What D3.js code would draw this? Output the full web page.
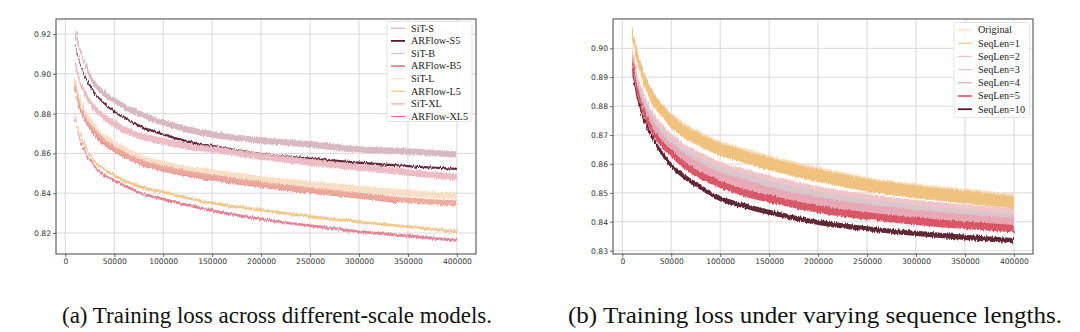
<!DOCTYPE html>
<html>
<head>
<meta charset="utf-8">
<script src="https://cdn.jsdelivr.net/npm/d3@7"></script>
<style>
  html, body { margin: 0; padding: 0; background: #fff; }
  svg { display: block; }
</style>
</head>
<body>
<svg id="fig" width="1080" height="332"></svg>
<script>
// Training steps at which the loss is sampled
const steps = [10000, 15000, 20000, 25000, 30000, 40000, 50000, 60000, 75000,
               100000, 125000, 150000, 200000, 250000, 300000, 350000, 400000];
const stepsB5 = [10000, 15000, 20000, 25000, 30000, 40000, 50000, 60000, 75000,
                 100000, 125000, 150000, 200000, 250000, 300000, 340000];

// (a) different-scale models
const scaleNames = ["SiT-S", "ARFlow-S5", "SiT-B", "ARFlow-B5", "SiT-L", "ARFlow-L5", "SiT-XL", "ARFlow-XL5"];
const sitS     = [0.922, 0.912, 0.905, 0.899, 0.895, 0.890, 0.8865, 0.8835, 0.880, 0.8755, 0.872, 0.8695, 0.8665, 0.8645, 0.862, 0.861, 0.8595];
const arflowS5 = [0.9148, 0.905, 0.899, 0.894, 0.8905, 0.885, 0.881, 0.878, 0.874, 0.8695, 0.866, 0.8637, 0.8597, 0.8573, 0.8553, 0.8536, 0.8522];
const sitB     = [0.906, 0.896, 0.890, 0.886, 0.8828, 0.878, 0.875, 0.872, 0.869, 0.866, 0.8635, 0.862, 0.8585, 0.8555, 0.853, 0.8505, 0.848];
const arflowB5 = [0.8925, 0.8825, 0.877, 0.873, 0.8698, 0.865, 0.8618, 0.859, 0.8555, 0.852, 0.8495, 0.8475, 0.844, 0.841, 0.8385, 0.8362];
const sitL     = [0.897, 0.887, 0.881, 0.877, 0.8735, 0.868, 0.865, 0.862, 0.858, 0.8545, 0.852, 0.8505, 0.847, 0.8445, 0.842, 0.840, 0.8385];
const arflowL5 = [0.8805, 0.870, 0.864, 0.8595, 0.856, 0.852, 0.849, 0.8465, 0.8435, 0.8405, 0.8375, 0.835, 0.8315, 0.8283, 0.8256, 0.8232, 0.8207];
const sitXL    = [0.894, 0.884, 0.878, 0.874, 0.871, 0.866, 0.8625, 0.8595, 0.856, 0.8525, 0.850, 0.848, 0.8445, 0.8415, 0.839, 0.8365, 0.835];
const arflowXL5= [0.878, 0.867, 0.861, 0.857, 0.8535, 0.849, 0.8465, 0.844, 0.8405, 0.837, 0.834, 0.8312, 0.827, 0.8237, 0.8207, 0.8185, 0.8163];
const scaleSpread = [0.0016, 0.0006, 0.0017, 0.0012, 0.0017, 0.0007, 0.0014, 0.0007];

// (b) sequence lengths
const seqNames = ["Original", "SeqLen=1", "SeqLen=2", "SeqLen=3", "SeqLen=4", "SeqLen=5", "SeqLen=10"];
const original = [0.905, 0.8975, 0.8915, 0.8868, 0.8832, 0.8788, 0.8752, 0.8725, 0.8695, 0.8655, 0.863, 0.8605, 0.8565, 0.853, 0.8507, 0.849, 0.8472];
const seqLen1  = [0.906, 0.8975, 0.892, 0.887, 0.8835, 0.879, 0.8748, 0.872, 0.869, 0.865, 0.8625, 0.860, 0.856, 0.8527, 0.8503, 0.8485, 0.8467];
const seqLen2  = [0.899, 0.890, 0.8845, 0.8805, 0.877, 0.872, 0.8688, 0.866, 0.863, 0.859, 0.8565, 0.8543, 0.8505, 0.8478, 0.8457, 0.8442, 0.8428];
const seqLen3  = [0.898, 0.8888, 0.883, 0.879, 0.8755, 0.8705, 0.8672, 0.8645, 0.8613, 0.8575, 0.855, 0.8528, 0.849, 0.8463, 0.8442, 0.8426, 0.8412];
const seqLen4  = [0.8965, 0.8873, 0.8815, 0.8773, 0.874, 0.869, 0.8657, 0.863, 0.8598, 0.8555, 0.853, 0.8505, 0.847, 0.8445, 0.8425, 0.841, 0.8398];
const seqLen5  = [0.8955, 0.886, 0.880, 0.8755, 0.872, 0.867, 0.8637, 0.8605, 0.857, 0.853, 0.850, 0.848, 0.8443, 0.842, 0.8402, 0.8388, 0.8376];
const seqLen10 = [0.8925, 0.8835, 0.8775, 0.873, 0.8695, 0.864, 0.8595, 0.8565, 0.853, 0.848, 0.8455, 0.8433, 0.8398, 0.8376, 0.836, 0.8346, 0.8335];
const seqSpread = [0.0025, 0.0022, 0.0018, 0.0016, 0.0016, 0.0013, 0.0009];

// Axis ticks
const xTicks = [0, 50000, 100000, 150000, 200000, 250000, 300000, 350000, 400000];
const yTicksA = [0.82, 0.84, 0.86, 0.88, 0.90, 0.92];
const yTicksB = [0.83, 0.84, 0.85, 0.86, 0.87, 0.88, 0.89, 0.90];

const captions = ["(a) Training loss across different-scale models.",
                  "(b) Training loss under varying sequence lengths."];

// Colours and legend line widths
const scaleColors = ["#d6b6bf", "#5c1a30", "#ebbac2", "#d9868f", "#f6dec4", "#f0c383", "#eea99c", "#e57c90"];
const scaleLegendW = [1.2, 1.8, 1.2, 1.8, 1.2, 1.2, 1.2, 1.2];
const seqColors = ["#f7dcb6", "#efc17d", "#f0c2c7", "#d8c8cd", "#e8a6b4", "#d8505f", "#5a1a2c"];
const seqLegendW = [1.2, 1.2, 1.2, 1.2, 1.2, 1.6, 1.8];

const svg = d3.select("#fig");
const defs = svg.append("defs");

// jagged edge texture for the noisy loss bands
const jit = defs.append("filter").attr("id", "jitter")
  .attr("x", "-2%").attr("y", "-10%").attr("width", "104%").attr("height", "120%");
jit.append("feTurbulence").attr("type", "fractalNoise")
  .attr("baseFrequency", "0.9 0.08").attr("numOctaves", 2).attr("seed", 3).attr("result", "n");
jit.append("feDisplacementMap").attr("in", "SourceGraphic").attr("in2", "n")
  .attr("scale", 4).attr("xChannelSelector", "R").attr("yChannelSelector", "G");

function panel(opt) {
  const { left, right, top, bottom, yDomain, yTicks, series, id, legend } = opt;
  const x = d3.scaleLinear().domain([-9500, 419500]).range([left, right]);
  const y = d3.scaleLinear().domain(yDomain).range([bottom, top]);
  const g = svg.append("g");

  defs.append("clipPath").attr("id", id).append("rect")
    .attr("x", left).attr("y", top).attr("width", right - left).attr("height", bottom - top);

  // grid
  g.append("g").selectAll("line").data(xTicks).join("line")
    .attr("x1", d => x(d)).attr("x2", d => x(d)).attr("y1", top).attr("y2", bottom)
    .attr("stroke", "#d4d4d4").attr("stroke-width", 0.9);
  g.append("g").selectAll("line").data(yTicks).join("line")
    .attr("x1", left).attr("x2", right).attr("y1", d => y(d)).attr("y2", d => y(d))
    .attr("stroke", "#d4d4d4").attr("stroke-width", 0.9);

  // loss bands
  const plot = g.append("g").attr("clip-path", `url(#${id})`);
  series.forEach(s => {
    const pts = s.xs.map((xx, i) => [xx, s.vals[i]]);
    const area = d3.area()
      .x(d => x(d[0]))
      .y0(d => y(d[1] - s.spread))
      .y1(d => y(d[1] + s.spread))
      .curve(d3.curveMonotoneX);
    plot.append("path").attr("d", area(pts))
      .attr("fill", s.color).attr("opacity", 0.95)
      .attr("filter", "url(#jitter)");
  });

  // axes
  const xAxis = d3.axisBottom(x).tickValues(xTicks).tickFormat(d3.format("d")).tickSize(3).tickPadding(2);
  const yAxis = d3.axisLeft(y).tickValues(yTicks).tickFormat(d3.format(".2f")).tickSize(3).tickPadding(2);
  const ax = g.append("g").attr("transform", `translate(0,${bottom})`).call(xAxis);
  const ay = g.append("g").attr("transform", `translate(${left},0)`).call(yAxis);
  [ax, ay].forEach(a => {
    a.select(".domain").remove();
    a.selectAll("line").attr("stroke", "#444").attr("stroke-width", 0.8);
    a.selectAll("text").attr("fill", "#333")
      .style("font-family", "'DejaVu Sans', sans-serif").style("font-size", "7.6px");
  });

  // frame
  g.append("rect").attr("x", left).attr("y", top)
    .attr("width", right - left).attr("height", bottom - top)
    .attr("fill", "none").attr("stroke", "#555").attr("stroke-width", 1.1);

  // legend
  const lg = g.append("g");
  lg.append("rect").attr("x", legend.x).attr("y", legend.y)
    .attr("width", legend.w).attr("height", legend.h).attr("rx", 2)
    .attr("fill", "#fff").attr("fill-opacity", 0.85)
    .attr("stroke", "#dcdcdc").attr("stroke-width", 0.8);
  const rows = lg.selectAll("g.row").data(series).join("g")
    .attr("transform", (d, i) => `translate(0,${legend.y0 + i * legend.dy})`);
  rows.append("line")
    .attr("x1", legend.x + 4).attr("x2", legend.x + 18)
    .attr("stroke", d => d.color).attr("stroke-width", d => d.lw);
  rows.append("text").attr("x", legend.x + 24).attr("dy", "0.33em")
    .style("font-family", "'Liberation Serif', 'Times New Roman', serif")
    .style("font-size", "10.2px").attr("fill", "#222")
    .text(d => d.name);
}

const scaleVals = [sitS, arflowS5, sitB, arflowB5, sitL, arflowL5, sitXL, arflowXL5];
panel({
  id: "clipA", left: 56, right: 476, top: 19, bottom: 254,
  yDomain: [0.80945, 0.92754], yTicks: yTicksA,
  series: scaleNames.map((n, i) => ({
    name: n, vals: scaleVals[i], xs: n === "ARFlow-B5" ? stepsB5 : steps,
    color: scaleColors[i], spread: scaleSpread[i], lw: scaleLegendW[i]
  })),
  legend: { x: 387, y: 21.5, w: 85, h: 100, y0: 28.3, dy: 12.6 }
});

const seqVals = [original, seqLen1, seqLen2, seqLen3, seqLen4, seqLen5, seqLen10];
panel({
  id: "clipB", left: 613, right: 1033, top: 19, bottom: 254,
  yDomain: [0.82886, 0.91014], yTicks: yTicksB,
  series: seqNames.map((n, i) => ({
    name: n, vals: seqVals[i], xs: steps,
    color: seqColors[i], spread: seqSpread[i], lw: seqLegendW[i]
  })),
  legend: { x: 954, y: 22.5, w: 75.5, h: 95, y0: 30, dy: 13.2 }
});

// captions, fitted to their set widths
const capLayout = [{ x: 62, w: 430 }, { x: 568, w: 494 }];
svg.selectAll("text.cap").data(captions).join("text").attr("class", "cap")
  .attr("x", (d, i) => capLayout[i].x).attr("y", 323)
  .attr("textLength", (d, i) => capLayout[i].w)
  .attr("lengthAdjust", "spacingAndGlyphs")
  .style("font-family", "'Liberation Serif', 'Times New Roman', serif")
  .style("font-size", "23.5px").attr("fill", "#111")
  .text(d => d);
</script>
</body>
</html>
